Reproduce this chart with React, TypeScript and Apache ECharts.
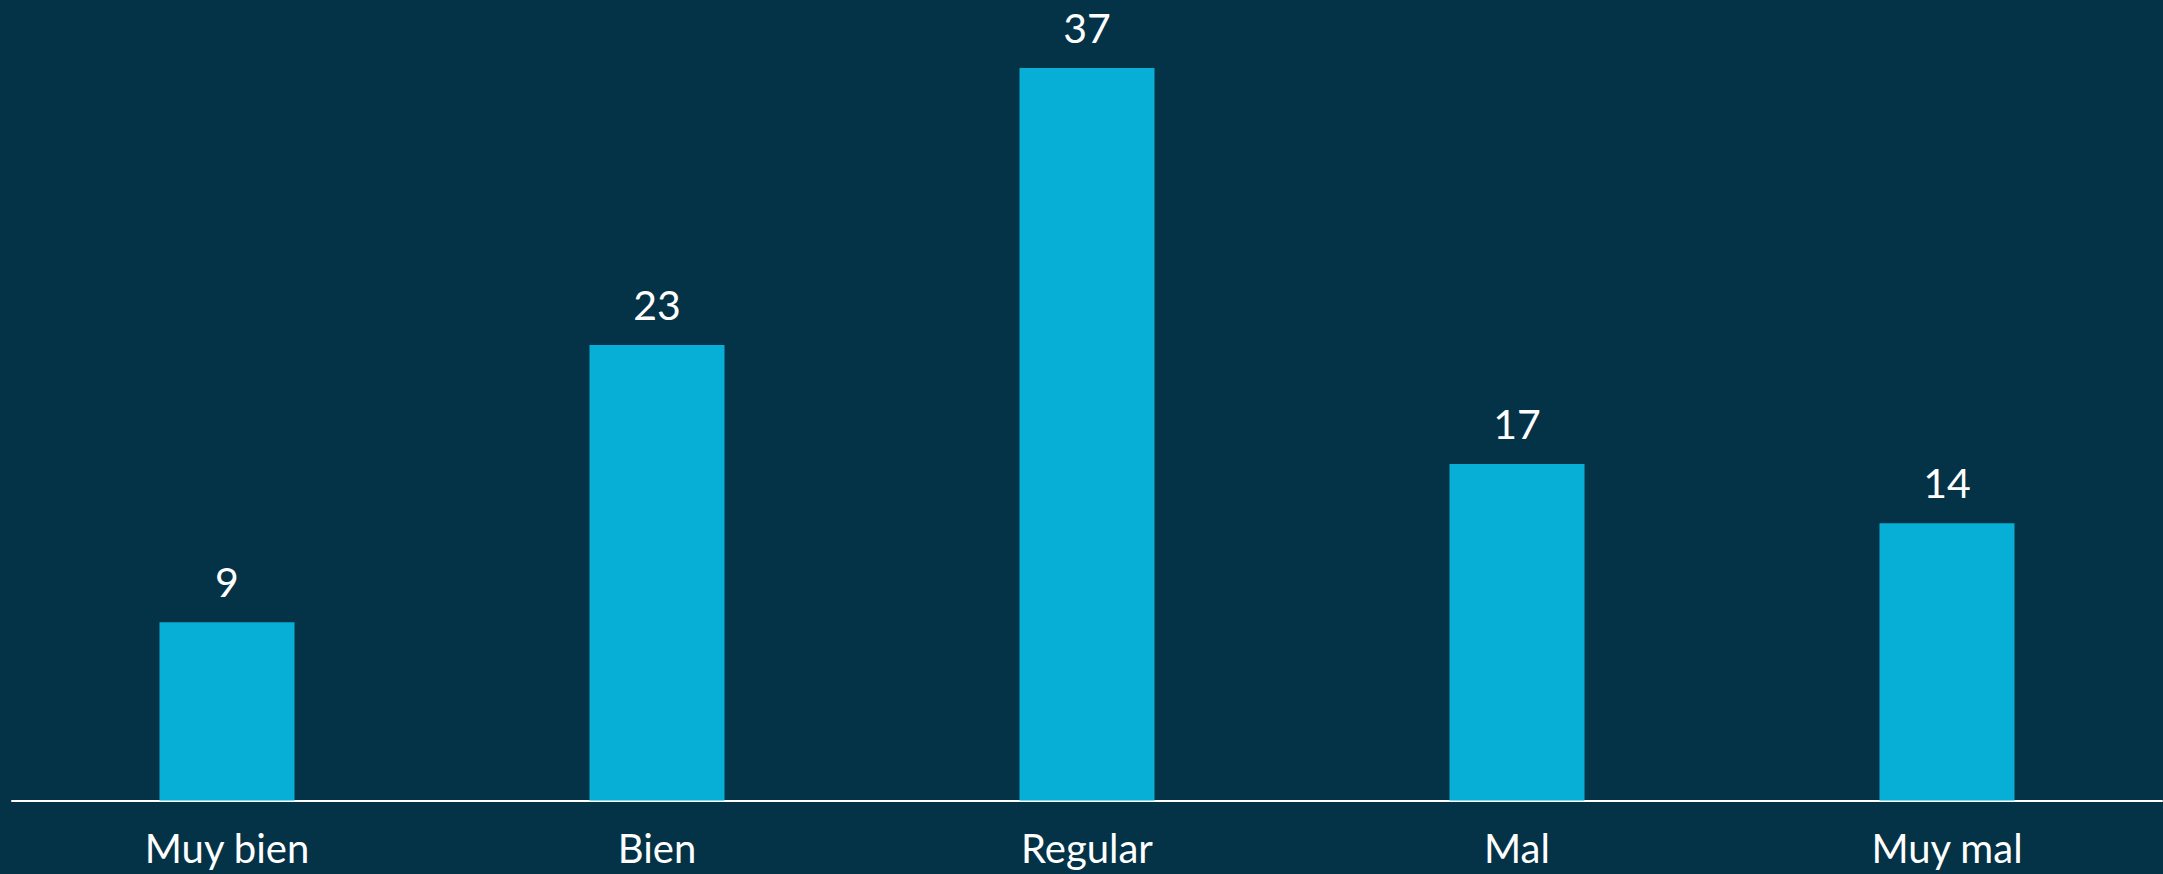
import React, { useEffect, useRef } from "react";
import * as echarts from "echarts";

const categories = ["Muy bien", "Bien", "Regular", "Mal", "Muy mal"];
const values = [9, 23, 37, 17, 14];

export default function App() {
  const ref = useRef<HTMLDivElement>(null);
  useEffect(() => {
    document.body.style.margin = "0";
    const chart = echarts.init(ref.current!, null, { renderer: "svg" });
    chart.setOption({
      animation: false,
      backgroundColor: "#043246",
      grid: { left: 12, right: 1, top: 8.5, bottom: 73.5, containLabel: false },
      xAxis: {
        type: "category",
        data: categories,
        axisLine: { lineStyle: { color: "#ffffff", width: 2 } },
        axisTick: { show: false },
        axisLabel: {
          color: "#ffffff",
          fontSize: 40,
          fontFamily: "Lato",
          margin: 27,
        },
      },
      yAxis: {
        type: "value",
        min: 0,
        max: 40,
        show: false,
        splitLine: { show: false },
      },
      series: [
        {
          type: "bar",
          data: values,
          barWidth: 135,
          itemStyle: { color: "#07AFD6" },
          label: {
            show: true,
            position: "top",
            distance: 20,
            color: "#ffffff",
            fontSize: 41,
            fontFamily: "Lato",
          },
        },
      ],
    });
    return () => chart.dispose();
  }, []);
  return <div ref={ref} style={{ width: 2163, height: 874 }} />;
}
